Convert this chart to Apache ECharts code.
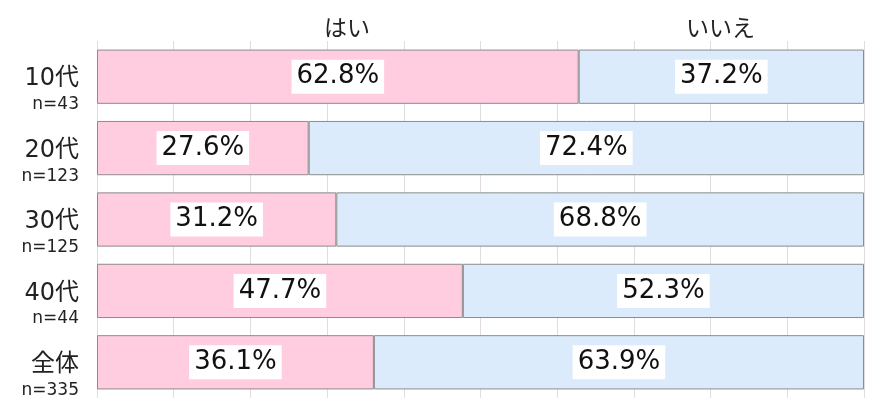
<!DOCTYPE html>
<html><head><meta charset="utf-8">
<script src="https://cdn.jsdelivr.net/npm/echarts@6/dist/echarts.min.js"></script>
<style>html,body{margin:0;padding:0;background:#fff}#c{width:879px;height:414px}</style>
</head><body><div id="c"></div>
<script>
const categories = ['10代','20代','30代','40代','全体'];
const sampleSizes = ['n=43','n=123','n=125','n=44','n=335'];
const seriesNames = ['はい','いいえ'];
const yesValues = [62.8, 27.6, 31.2, 47.7, 36.1];
const noValues = [37.2, 72.4, 68.8, 52.3, 63.9];

const FONT = '"DejaVu Sans", "Noto Sans CJK JP", sans-serif';
const chart = echarts.init(document.getElementById('c'));
const labelCfg = {
  show: true, position: 'inside', color: '#111', fontSize: 26, fontFamily: FONT,
  backgroundColor: '#fff', padding: [5, 5, 3, 5],
  formatter: p => p.value.toFixed(1) + '%'
};
chart.setOption({
  animation: false,
  textStyle: { fontFamily: FONT },
  legend: [
    { data: [seriesNames[0]], left: 314, top: 14, icon: 'none', itemWidth: 0, itemGap: 0, selectedMode: false,
      textStyle: { fontSize: 23, color: '#222', fontFamily: FONT } },
    { data: [seriesNames[1]], left: 676, top: 14, icon: 'none', itemWidth: 0, itemGap: 0, selectedMode: false,
      textStyle: { fontSize: 23, color: '#222', fontFamily: FONT } }
  ],
  grid: { left: 97, right: 15, top: 41, bottom: 16, containLabel: false },
  xAxis: {
    type: 'value', min: 0, max: 100, interval: 10,
    axisLabel: { show: false }, axisLine: { show: false }, axisTick: { show: false },
    splitLine: { show: true, lineStyle: { color: '#e3dcdc', width: 1 } }
  },
  yAxis: {
    type: 'category', data: categories, inverse: true,
    axisLine: { show: false }, axisTick: { show: false },
    axisLabel: {
      margin: 18, align: 'right', padding: [23, 0, 0, 0],
      formatter: (v, i) => '{a|' + v + '}\n{b|' + sampleSizes[i] + '}',
      rich: {
        a: { fontSize: 24, color: '#222', fontFamily: FONT, align: 'right', lineHeight: 33 },
        b: { fontSize: 17, color: '#222', fontFamily: FONT, align: 'right', lineHeight: 18 }
      }
    }
  },
  series: [
    { name: seriesNames[0], type: 'bar', stack: 'a', data: yesValues, barWidth: '76%',
      itemStyle: { color: '#FFCCE0', borderColor: '#8c8c8c', borderWidth: 1 }, label: labelCfg },
    { name: seriesNames[1], type: 'bar', stack: 'a', data: noValues, barWidth: '76%',
      itemStyle: { color: '#DCEBFB', borderColor: '#8c8c8c', borderWidth: 1 }, label: labelCfg }
  ]
});
</script></body></html>
